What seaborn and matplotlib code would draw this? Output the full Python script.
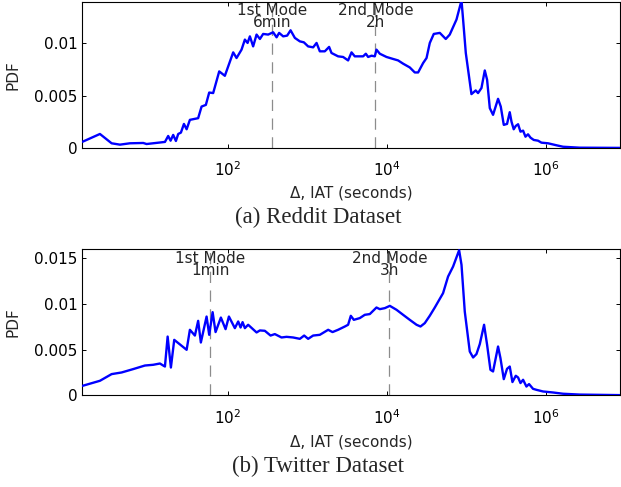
import numpy as np
import pandas as pd
import matplotlib
matplotlib.use("Agg")
import matplotlib.pyplot as plt
import matplotlib.ticker as mticker
import matplotlib.transforms as mtransforms
import seaborn as sns

# ---------------- data (log10 of IAT in seconds, PDF) ----------------
reddit_log10_iat = [0.172, 0.390, 0.537, 0.642, 0.767, 0.935, 0.977, 1.208, 1.249, 1.279,
                    1.312, 1.346, 1.375, 1.409, 1.447, 1.481, 1.522, 1.626, 1.669, 1.723,
                    1.765, 1.815, 1.891, 1.962, 2.067, 2.109, 2.172, 2.214, 2.248, 2.277,
                    2.318, 2.361, 2.403, 2.444, 2.507, 2.570, 2.613, 2.645, 2.696, 2.746,
                    2.789, 2.843, 2.906, 2.956, 3.010, 3.073, 3.116, 3.157, 3.220, 3.274,
                    3.304, 3.387, 3.450, 3.513, 3.556, 3.597, 3.702, 3.736, 3.765, 3.808,
                    3.849, 3.870, 3.912, 3.996, 4.079, 4.142, 4.205, 4.289, 4.352, 4.394,
                    4.457, 4.500, 4.541, 4.591, 4.667, 4.742, 4.792, 4.877, 4.940, 4.960,
                    4.994, 5.065, 5.119, 5.148, 5.191, 5.233, 5.262, 5.296, 5.337, 5.400,
                    5.434, 5.472, 5.513, 5.547, 5.569, 5.597, 5.623, 5.652, 5.682, 5.715,
                    5.745, 5.777, 5.808, 5.849, 5.903, 5.946, 6.029, 6.135, 6.218, 6.428, 6.943]
reddit_pdf = [0.00060, 0.00134, 0.00045, 0.00032, 0.00045, 0.00048, 0.00038, 0.00058, 0.00115, 0.00070,
              0.00125, 0.00067, 0.00134, 0.00147, 0.00230, 0.00179, 0.00269, 0.00285, 0.00396, 0.00412,
              0.00530, 0.00525, 0.00732, 0.00690, 0.00914, 0.00860, 0.00940, 0.01036, 0.01004, 0.01067,
              0.00971, 0.01084, 0.01042, 0.01090, 0.01084, 0.01106, 0.01058, 0.01100, 0.01067, 0.01074,
              0.01125, 0.01052, 0.01019, 0.01010, 0.00971, 0.00962, 0.01004, 0.00924, 0.00924, 0.00966,
              0.00908, 0.00876, 0.00870, 0.00837, 0.00914, 0.00876, 0.00876, 0.00901, 0.00870, 0.00882,
              0.00876, 0.00940, 0.00901, 0.00870, 0.00851, 0.00837, 0.00806, 0.00770, 0.00722, 0.00722,
              0.00812, 0.00860, 0.01004, 0.01090, 0.01100, 0.01042, 0.01084, 0.01228, 0.01410, 0.01228,
              0.00908, 0.00515, 0.00550, 0.00525, 0.00573, 0.00741, 0.00652, 0.00381, 0.00317, 0.00470,
              0.00396, 0.00221, 0.00230, 0.00342, 0.00252, 0.00179, 0.00211, 0.00227, 0.00156, 0.00166,
              0.00108, 0.00131, 0.00099, 0.00077, 0.00070, 0.00051, 0.00045, 0.00026, 0.00012, 0.00003, 0.00001]

twitter_log10_iat = [0.172, 0.390, 0.537, 0.663, 0.809, 0.956, 1.060, 1.145, 1.186, 1.208,
                     1.242, 1.283, 1.325, 1.481, 1.522, 1.585, 1.626, 1.660, 1.732, 1.765,
                     1.808, 1.845, 1.912, 1.971, 2.013, 2.088, 2.130, 2.160, 2.185, 2.214,
                     2.255, 2.361, 2.403, 2.465, 2.537, 2.591, 2.675, 2.738, 2.821, 2.906,
                     2.960, 3.010, 3.073, 3.157, 3.262, 3.317, 3.387, 3.472, 3.513, 3.547,
                     3.585, 3.660, 3.723, 3.786, 3.870, 3.912, 3.975, 4.038, 4.122, 4.205,
                     4.289, 4.374, 4.424, 4.478, 4.541, 4.604, 4.708, 4.771, 4.834, 4.910,
                     4.940, 4.981, 5.044, 5.086, 5.128, 5.170, 5.224, 5.262, 5.304, 5.337,
                     5.400, 5.430, 5.472, 5.513, 5.547, 5.581, 5.623, 5.652, 5.682, 5.715,
                     5.757, 5.790, 5.840, 5.883, 5.966, 6.092, 6.218, 6.428, 6.943]
twitter_pdf = [0.00106, 0.00161, 0.00234, 0.00252, 0.00289, 0.00328, 0.00336, 0.00350, 0.00328, 0.00317,
               0.00645, 0.00306, 0.00609, 0.00500, 0.00719, 0.00656, 0.00817, 0.00580, 0.00864, 0.00664,
               0.00912, 0.00694, 0.00853, 0.00726, 0.00864, 0.00737, 0.00810, 0.00744, 0.00803, 0.00737,
               0.00774, 0.00690, 0.00712, 0.00708, 0.00656, 0.00672, 0.00635, 0.00642, 0.00635, 0.00620,
               0.00656, 0.00620, 0.00656, 0.00664, 0.00719, 0.00694, 0.00719, 0.00755, 0.00774, 0.00872,
               0.00828, 0.00847, 0.00883, 0.00891, 0.00963, 0.00945, 0.00956, 0.00981, 0.00938, 0.00883,
               0.00828, 0.00774, 0.00755, 0.00792, 0.00873, 0.00963, 0.01120, 0.01302, 0.01411, 0.01590,
               0.01430, 0.00919, 0.00481, 0.00416, 0.00453, 0.00562, 0.00774, 0.00555, 0.00281, 0.00263,
               0.00536, 0.00409, 0.00179, 0.00292, 0.00317, 0.00147, 0.00216, 0.00197, 0.00136, 0.00172,
               0.00098, 0.00125, 0.00073, 0.00062, 0.00044, 0.00033, 0.00019, 0.00010, 0.00004]

reddit_modes_sec = [360, 7200]
reddit_mode_names = ["1st Mode", "2nd Mode"]
reddit_mode_values = ["6min", "2h"]
twitter_modes_sec = [60, 10800]
twitter_mode_names = ["1st Mode", "2nd Mode"]
twitter_mode_values = ["1min", "3h"]

reddit_yticks = [0, 0.005, 0.01]
reddit_yticklabels = ["0", "0.005", "0.01"]
twitter_yticks = [0, 0.005, 0.01, 0.015]
twitter_yticklabels = ["0", "0.005", "0.01", "0.015"]
xticks = [1e2, 1e4, 1e6]

xlabel = "\u0394, IAT (seconds)"
ylabel = "PDF"
captions = ["(a) Reddit Dataset", "(b) Twitter Dataset"]

# ---------------- style ----------------
sns.set_style("ticks")
plt.rcParams["font.family"] = ["DejaVu Sans"]
plt.rcParams["font.size"] = 11
plt.rcParams["axes.linewidth"] = 0.8

fig = plt.figure(figsize=(6.21, 4.87), dpi=100)
ax_top = fig.add_axes([0.1320, 0.6961, 0.8671, 0.3008])
ax_bot = fig.add_axes([0.1320, 0.1879, 0.8671, 0.3002])

panels = [
    (ax_top, reddit_log10_iat, reddit_pdf, 0.014, reddit_yticks, reddit_yticklabels,
     reddit_modes_sec, reddit_mode_names, reddit_mode_values, -0.253),
    (ax_bot, twitter_log10_iat, twitter_pdf, 0.016, twitter_yticks, twitter_yticklabels,
     twitter_modes_sec, twitter_mode_names, twitter_mode_values, -0.27),
]

for (ax, lx, pdf, ymax, yt, ytl, modes, mnames, mvals, xlab_y) in panels:
    df = pd.DataFrame({"iat": np.power(10.0, np.asarray(lx)), "pdf": pdf})
    ax.set_xscale("log")
    for m in modes:
        ax.axvline(m, color="#8c8c8c", lw=0.9, dashes=(9, 6), zorder=1)
    sns.lineplot(data=df, x="iat", y="pdf", ax=ax, color="#0000ff", lw=1.7,
                 estimator=None, sort=False, zorder=3)
    ax.set_xlim(10 ** 0.164, 10 ** 6.94)
    ax.set_ylim(0, ymax)
    ax.set_xticks(xticks)
    ax.xaxis.set_minor_locator(mticker.NullLocator())
    ax.set_yticks(yt)
    ax.set_yticklabels(ytl)
    ax.tick_params(axis="both", which="major", direction="in", top=True, right=True,
                   length=3, width=0.7, colors="black", labelsize=11)
    ax.tick_params(axis="x", pad=9)
    ax.tick_params(axis="y", pad=3)
    for s in ax.spines.values():
        s.set_visible(True)
        s.set_color("black")
        s.set_linewidth(0.8)
    ax.set_xlabel(xlabel, fontsize=11)
    ax.set_ylabel(ylabel, fontsize=11)
    ax.xaxis.set_label_coords(0.5, xlab_y)
    ax.yaxis.set_label_coords(-0.115, 0.5)
    trans = mtransforms.blended_transform_factory(ax.transData, ax.transAxes)
    for m, n, v in zip(modes, mnames, mvals):
        ax.text(m, 0.898, n + "\n" + v, transform=trans, ha="center", va="center",
                multialignment="center", linespacing=0.78, fontsize=11, zorder=4)
    ax.grid(False)

fig.text(0.512, 1 - 217 / 487, captions[0], ha="center", va="center",
         family="Liberation Serif", fontsize=16.5)
fig.text(0.512, 1 - 466 / 487, captions[1], ha="center", va="center",
         family="Liberation Serif", fontsize=16.5)

fig.savefig("out.png", dpi=100)
